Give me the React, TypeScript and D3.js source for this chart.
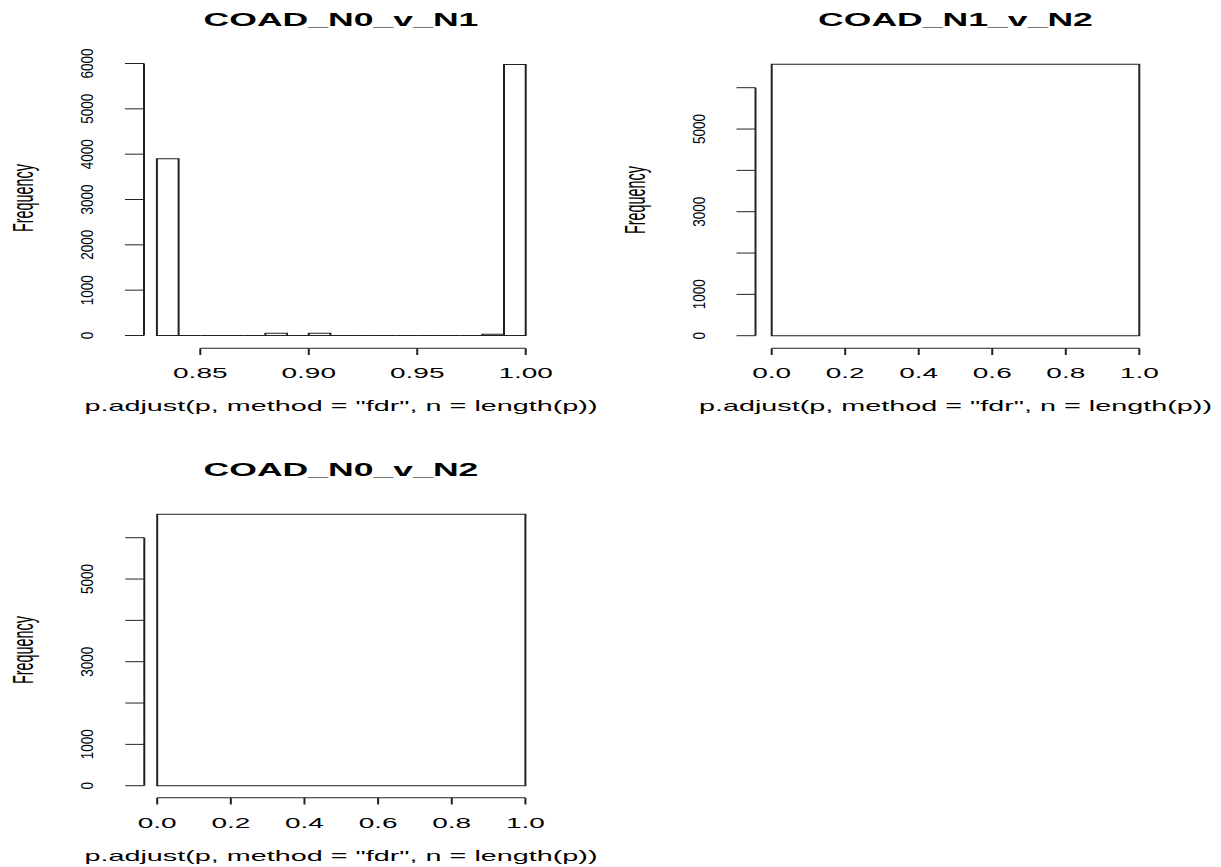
import React, { useEffect, useRef } from "react";
import * as d3 from "d3";

const WIDTH = 1221;
const HEIGHT = 867;
// the source raster was stretched sideways, about 2x
const SX = 2;

const panelTitles = ["COAD_N0_v_N1", "COAD_N1_v_N2", "COAD_N0_v_N2"];
const xAxisLabel = 'p.adjust(p, method = "fdr", n = length(p))';
const yAxisLabel = "Frequency";

// N0 vs N1, bins of 0.01
const breaksN0N1 = [0.83, 0.84, 0.85, 0.86, 0.87, 0.88, 0.89, 0.9, 0.91, 0.92, 0.93, 0.94, 0.95, 0.96, 0.97, 0.98, 0.99, 1.0];
const countsN0N1 = [3900, 0, 0, 0, 0, 50, 0, 50, 0, 0, 0, 0, 0, 0, 0, 30, 5980];
const xTicksN0N1 = [0.85, 0.9, 0.95, 1.0];
const xTickLabelsN0N1 = ["0.85", "0.90", "0.95", "1.00"];
const yTicksN0N1 = [0, 1000, 2000, 3000, 4000, 5000, 6000];
const yLabelTicksN0N1 = [0, 1000, 2000, 3000, 4000, 5000, 6000];

// N1 vs N2 and N0 vs N2, everything falls in one bin
const breaksN1N2 = [0, 1];
const countsN1N2 = [6570];
const breaksN0N2 = [0, 1];
const countsN0N2 = [6570];
const xTicksUnit = [0, 0.2, 0.4, 0.6, 0.8, 1.0];
const xTickLabelsUnit = ["0.0", "0.2", "0.4", "0.6", "0.8", "1.0"];
const yTicksUnit = [0, 1000, 2000, 3000, 4000, 5000, 6000];
const yLabelTicksUnit = [0, 1000, 3000, 5000];

const panels = [
    { title: panelTitles[0], breaks: breaksN0N1, counts: countsN0N1, xTicks: xTicksN0N1, xTickLabels: xTickLabelsN0N1, yTicks: yTicksN0N1, yLabelTicks: yLabelTicksN0N1 },
    { title: panelTitles[1], breaks: breaksN1N2, counts: countsN1N2, xTicks: xTicksUnit, xTickLabels: xTickLabelsUnit, yTicks: yTicksUnit, yLabelTicks: yLabelTicksUnit },
    { title: panelTitles[2], breaks: breaksN0N2, counts: countsN0N2, xTicks: xTicksUnit, xTickLabels: xTickLabelsUnit, yTicks: yTicksUnit, yLabelTicks: yLabelTicksUnit },
];

// pixel positions measured on the picture
const layouts = [
    { left: 200.3, right: 525.7, yAxisX: 144, zeroY: 335.5, topY: 63.5, xAxisY: 348.3, centreX: 341, titleY: 26, tickLabelY: 377.7, xLabelY: 411.5, freqY: 198 },
    { left: 771.7, right: 1139.3, yAxisX: 755.5, zeroY: 335.7, topY: 87.7, xAxisY: 348.3, centreX: 955.5, titleY: 26, tickLabelY: 377.7, xLabelY: 411.5, freqY: 200 },
    { left: 157.2, right: 525.4, yAxisX: 144.3, zeroY: 785.7, topY: 537.7, xAxisY: 797.8, centreX: 341, titleY: 476.5, tickLabelY: 827.7, xLabelY: 861.5, freqY: 650 },
];

const FONT = '"Liberation Sans", Arial, Helvetica, sans-serif';
const INK = "#222";

export default function App() {
    const svgRef = useRef(null);

    useEffect(() => {
        const svg = d3.select(svgRef.current);
        svg.selectAll("*").remove();

        panels.forEach((p, k) => {
            const L = layouts[k];
            const g = svg.append("g").attr("transform", `scale(${SX},1)`);

            const x = d3
                .scaleLinear()
                .domain([p.xTicks[0], p.xTicks[p.xTicks.length - 1]])
                .range([L.left / SX, L.right / SX]);
            const y = d3
                .scaleLinear()
                .domain([p.yTicks[0], p.yTicks[p.yTicks.length - 1]])
                .range([L.zeroY, L.topY]);

            // bars, zero bins end up as flat lines like R does
            g.selectAll("path.bar")
                .data(p.counts)
                .join("path")
                .attr("class", "bar")
                .attr("d", (c, i) => `M${x(p.breaks[i])},${y(0)}V${y(c)}H${x(p.breaks[i + 1])}V${y(0)}Z`)
                .attr("fill", "#fff")
                .attr("stroke", INK)
                .attr("stroke-width", 1);

            const xAxis = g
                .append("g")
                .attr("transform", `translate(0,${L.xAxisY})`)
                .attr("color", INK)
                .call(d3.axisBottom(x).tickValues(p.xTicks).tickSize(6.7).tickSizeOuter(0).tickFormat(() => "").offset(0));
            xAxis.selectAll("text").remove();

            const yAxis = g
                .append("g")
                .attr("transform", `translate(${L.yAxisX / SX},0)`)
                .attr("color", INK)
                .call(d3.axisLeft(y).tickValues(p.yTicks).tickSize(19 / SX).tickSizeOuter(0).tickFormat(() => "").offset(0));
            yAxis.selectAll("text").remove();

            g.selectAll("text.xtick")
                .data(p.xTicks)
                .join("text")
                .attr("class", "xtick")
                .attr("x", (d) => x(d))
                .attr("y", L.tickLabelY)
                .attr("text-anchor", "middle")
                .attr("font-family", FONT)
                .attr("font-size", 14)
                .attr("fill", "#000")
                .text((d, i) => p.xTickLabels[i]);

            g.append("text")
                .attr("x", L.centreX / SX)
                .attr("y", L.titleY)
                .attr("text-anchor", "middle")
                .attr("font-family", FONT)
                .attr("font-weight", "bold")
                .attr("font-size", 17.8)
                .attr("fill", "#000")
                .text(p.title);

            g.append("text")
                .attr("x", L.centreX / SX)
                .attr("y", L.xLabelY)
                .attr("text-anchor", "middle")
                .attr("font-family", FONT)
                .attr("font-size", 14.4)
                .attr("fill", "#000")
                .text(xAxisLabel);

            g.append("text")
                .attr("transform", `translate(${(L.yAxisX - 111) / SX},${L.freqY}) rotate(-90)`)
                .attr("text-anchor", "middle")
                .attr("font-family", FONT)
                .attr("font-size", 14.4)
                .attr("fill", "#000")
                .text(yAxisLabel);

            // rotated tick numbers are only slightly widened in the picture
            svg.append("g")
                .selectAll("text")
                .data(p.yLabelTicks)
                .join("text")
                .attr("transform", (d) => `translate(${L.yAxisX - 51},${y(d)}) scale(1.25,1) rotate(-90)`)
                .attr("text-anchor", "middle")
                .attr("font-family", FONT)
                .attr("font-size", 13.5)
                .attr("fill", "#000")
                .text((d) => String(d));
        });
    }, []);

    return (
        <svg
            ref={svgRef}
            width={WIDTH}
            height={HEIGHT}
            style={{ position: "absolute", left: 0, top: 0, background: "#fff", display: "block" }}
        />
    );
}
